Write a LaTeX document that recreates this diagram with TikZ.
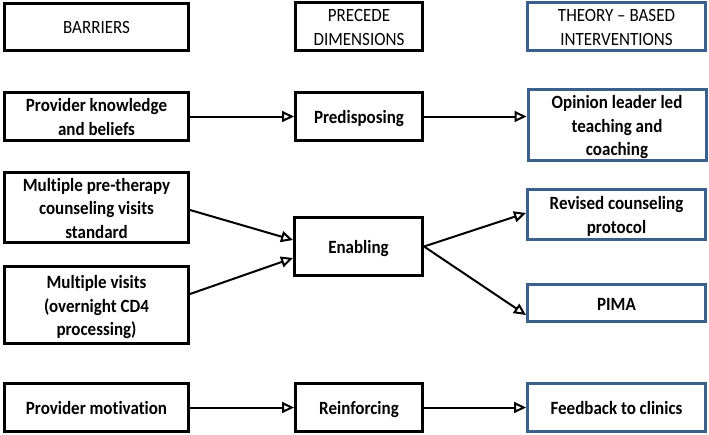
\documentclass[tikz,border=0pt]{standalone}
\usepackage{fontspec}
\usepackage{graphicx}
\setmainfont{Carlito}[Ligatures=NoCommon]
\usetikzlibrary{arrows.meta}
\definecolor{boxblue}{RGB}{60,96,140}
\newcommand\txt[1]{\raisebox{-2.5pt}[\height][\depth]{\scalebox{1}[1.1]{\begin{tabular}{@{}c@{}}#1\end{tabular}}}}
\tikzset{
  box/.style={draw=black, line width=3pt, rectangle, align=center, inner sep=0pt, fill=white,
    font=\fontsize{17}{21.4}\selectfont\bfseries},
  bluebox/.style={box, draw=boxblue},
  head/.style={box, font=\fontsize{17}{21.4}\selectfont},
  conn/.style={line width=2pt, -{Triangle[open, length=12pt, width=11pt, line width=2pt, fill=white]}}
}
\begin{document}
\begin{tikzpicture}[x=1pt,y=-1pt]
\useasboundingbox (0,0) rectangle (709,434);
% headers
\node[head, minimum width=184pt, minimum height=47pt] (barriers) at (96.5,26.5) {\txt{BARRIERS}};
\node[head, minimum width=127pt, minimum height=48pt] (precede) at (359,26.5) {\txt{PRECEDE\\DIMENSIONS}};
\node[head, draw=boxblue, minimum width=178pt, minimum height=48pt] (theory) at (616.5,26.5) {\txt{THEORY -- BASED\\INTERVENTIONS}};
% row 1
\node[box, minimum width=184pt, minimum height=48pt] (pk) at (96.5,116.5) {\txt{Provider knowledge\\and beliefs}};
\node[box, minimum width=127pt, minimum height=48pt] (pred) at (359,116.5) {\txt{Predisposing}};
\node[bluebox, minimum width=178pt, minimum height=67pt] (opinion) at (617,125) {\txt{Opinion leader led\\teaching and\\coaching}};
% row 2
\node[box, minimum width=184pt, minimum height=66pt] (mpt) at (96.5,207.5) {\txt{Multiple pre-therapy\\counseling visits\\standard}};
\node[box, minimum width=184pt, minimum height=77pt] (mv) at (96.5,305) {\txt{Multiple visits\\(overnight CD4\\processing)}};
\node[box, minimum width=128pt, minimum height=58pt] (enabling) at (358.5,246.5) {\txt{Enabling}};
\node[bluebox, minimum width=178pt, minimum height=50pt] (revised) at (616.5,214.5) {\txt{Revised counseling\\protocol}};
\node[bluebox, minimum width=178pt, minimum height=37pt] (pima) at (616.5,303) {\txt{PIMA}};
% row 3
\node[box, minimum width=184pt, minimum height=48pt] (pm) at (96.5,407.5) {\txt{Provider motivation}};
\node[box, minimum width=127pt, minimum height=48pt] (reinf) at (359,407.5) {\txt{Reinforcing}};
\node[bluebox, minimum width=178pt, minimum height=48pt] (feedback) at (616.5,407.5) {\txt{Feedback to clinics}};
% connectors
\draw[conn] (pk.east) -- (pred.west);
\draw[conn] (pred.east) -- (pred.east -| opinion.west);
\draw[conn] ([yshift=-2.5pt]mpt.east) -- ([yshift=6.5pt]enabling.west);
\draw[conn] ([yshift=11pt]mv.east) -- ([yshift=-11.5pt]enabling.west);
\draw[conn] (enabling.east) -- ([yshift=1.5pt]revised.west);
\draw[conn] (enabling.east) -- ([yshift=-12pt]pima.west);
\draw[conn] (pm.east) -- (reinf.west);
\draw[conn] (reinf.east) -- (feedback.west);
\end{tikzpicture}
\end{document}
